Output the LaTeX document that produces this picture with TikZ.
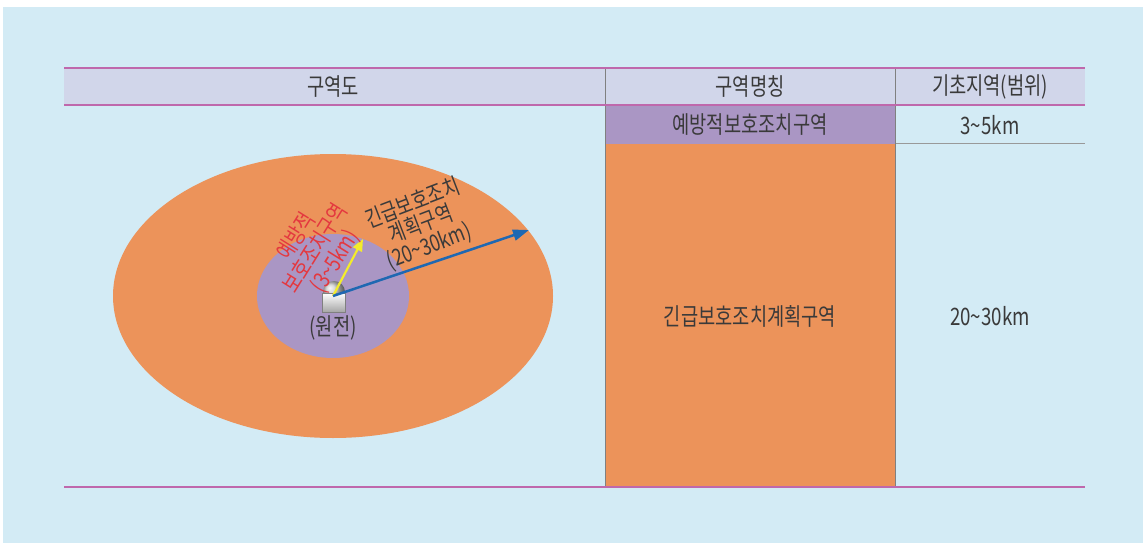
\documentclass[tikz,border=0pt]{standalone}
\usepackage{fontspec}
\setmainfont{Noto Sans CJK KR}[FakeStretch=0.78]
\usetikzlibrary{shapes.geometric,arrows.meta}
\definecolor{bg}{HTML}{D3EBF5}
\definecolor{hdr}{HTML}{D1D6EA}
\definecolor{mag}{HTML}{BF68AC}
\definecolor{org}{HTML}{EC935A}
\definecolor{pur}{HTML}{AA96C4}
\definecolor{txt}{HTML}{3A3A3A}
\definecolor{redt}{HTML}{E4383F}
\definecolor{yel}{HTML}{F3EC2B}
\definecolor{blu}{HTML}{1F68B2}
\begin{document}
\begin{tikzpicture}[x=1pt,y=-1pt,
  lbl/.style={text=txt, font=\fontsize{24}{24}\selectfont, inner sep=0pt},
  rot/.style={font=\fontsize{23}{23}\selectfont, align=center, inner sep=0pt},
  magline/.style={draw=mag, line width=2pt},
  sepline/.style={draw=gray, line width=0.9pt},
  zone/.style={ellipse, inner sep=0pt, draw=none}]
\useasboundingbox (0,0) rectangle (1143,543);
\fill[white] (0,0) rectangle (1143,543);
\fill[bg] (3,7) rectangle (1143,543);
% table
\fill[hdr] (64,68) rectangle (1085,105);
\fill[pur] (605,105) rectangle (895,143.5);
\fill[org] (605,143.5) rectangle (895,487);
\draw[gray!80, line width=0.8pt] (895,143.5) -- (1085,143.5);
\draw[sepline] (605,68) -- (605,487);
\draw[sepline] (895,68) -- (895,487);
\draw[magline] (64,68) -- (1085,68);
\draw[magline] (64,105) -- (1085,105);
\draw[magline] (64,487) -- (1085,487);
\node[lbl] (h1) at (333,87) {구역도};
\node[lbl] (h2) at (750,87) {구역명칭};
\node[lbl] (h3) at (990,87) {기초지역(범위)};
\node[lbl] (r1a) at (750,125) {예방적보호조치구역};
\node[lbl] (r1b) at (990,125) {3\textasciitilde 5km};
\node[lbl] (r2a) at (750,316) {긴급보호조치계획구역};
\node[lbl] (r2b) at (990,316) {20\textasciitilde 30km};
% zones
\node[zone, fill=org, minimum width=440pt, minimum height=284pt] (outer) at (333,296) {};
\node[zone, fill=pur, minimum width=152pt, minimum height=124pt] (inner) at (333,296) {};
% plant
\shade[ball color=gray!40] (334,292) circle[radius=11pt];
\node[draw=gray, line width=0.6pt, top color=white, bottom color=gray!70, minimum width=23pt, minimum height=19pt, inner sep=0pt] (plant) at (334,302.5) {};
\node[lbl] (wj) at (333,328) {(원전)};
% arrows
\coordinate (src) at (333,296);
\coordinate (ytip) at (363,239);
\coordinate (btip) at (529,230);
\draw[yel, line width=2.2pt, -{Triangle[length=12pt,width=10pt]}] (src) -- (ytip);
\draw[blu, line width=2.5pt, -{Triangle[length=16pt,width=11pt]}] (src) -- (btip);
% rotated labels
\node[rot, text=redt, rotate=58] (rz) at (316,249) {예방적\\보호조치구역\\(3\textasciitilde 5km)};
\node[rot, text=txt, rotate=21] (bz) at (421,225) {긴급보호조치\\계획구역\\(20\textasciitilde 30km)};
\end{tikzpicture}
\end{document}
